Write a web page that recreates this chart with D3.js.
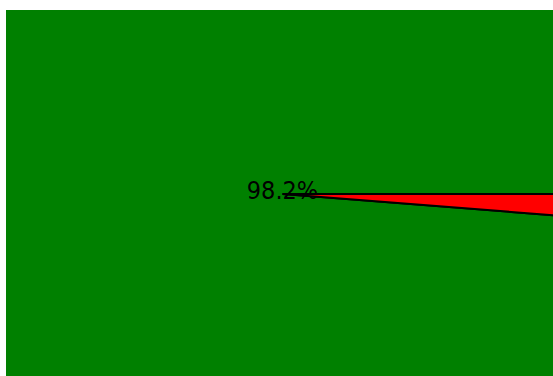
<!DOCTYPE html>
<html>
<head>
<meta charset="utf-8">
<script src="https://cdn.jsdelivr.net/npm/d3@7"></script>
<style>
  body { margin: 0; background: #fff; }
  #chart { position: absolute; left: 6px; top: 10px; }
  svg { display: block; overflow: hidden; }
</style>
</head>
<body>
<div id="chart"></div>
<script>
const width = 547;
const height = 366;
const radius = 1200;

// slice data
const labels = ['Yes', 'No'];
const values = [98.2, 1.8];
const colors = ['green', 'red'];

const data = labels.map((l, i) => ({ label: l, value: values[i] }));

const svg = d3.select('#chart')
  .append('svg')
    .attr('width', width)
    .attr('height', height);

const g = svg.append('g')
  .attr('transform', `translate(${width / 2 + 3},${height / 2 + 1})`);

// green ends at 3 o'clock, red hangs just below it
const pie = d3.pie()
  .value(d => d.value)
  .sort(null)
  .startAngle(Math.PI / 2 - 2 * Math.PI * 0.982)
  .endAngle(Math.PI / 2 + 2 * Math.PI * 0.018);

const arc = d3.arc()
  .innerRadius(0)
  .outerRadius(radius);

const total = d3.sum(values);

const slices = g.selectAll('g.slice')
  .data(pie(data))
  .join('g')
    .attr('class', 'slice');

slices.append('path')
  .attr('d', arc)
  .attr('transform', 'scale(1,0.69)')
  .attr('fill', (d, i) => colors[i])
  .attr('stroke', '#000')
  .attr('stroke-width', 2)
  .attr('vector-effect', 'non-scaling-stroke');

// only the big slice gets a label, in the middle
slices.filter(d => d.data.value / total > 0.5)
  .append('text')
    .attr('x', 0)
    .attr('y', 5)
    .attr('text-anchor', 'middle')
    .style('font-family', '"DejaVu Sans Condensed", "DejaVu Sans", sans-serif')
    .style('font-stretch', 'condensed')
    .style('font-size', '25px')
    .attr('fill', '#000')
    .text(d => `${(d.data.value / total * 100).toFixed(1)}%`);
</script>
</body>
</html>
